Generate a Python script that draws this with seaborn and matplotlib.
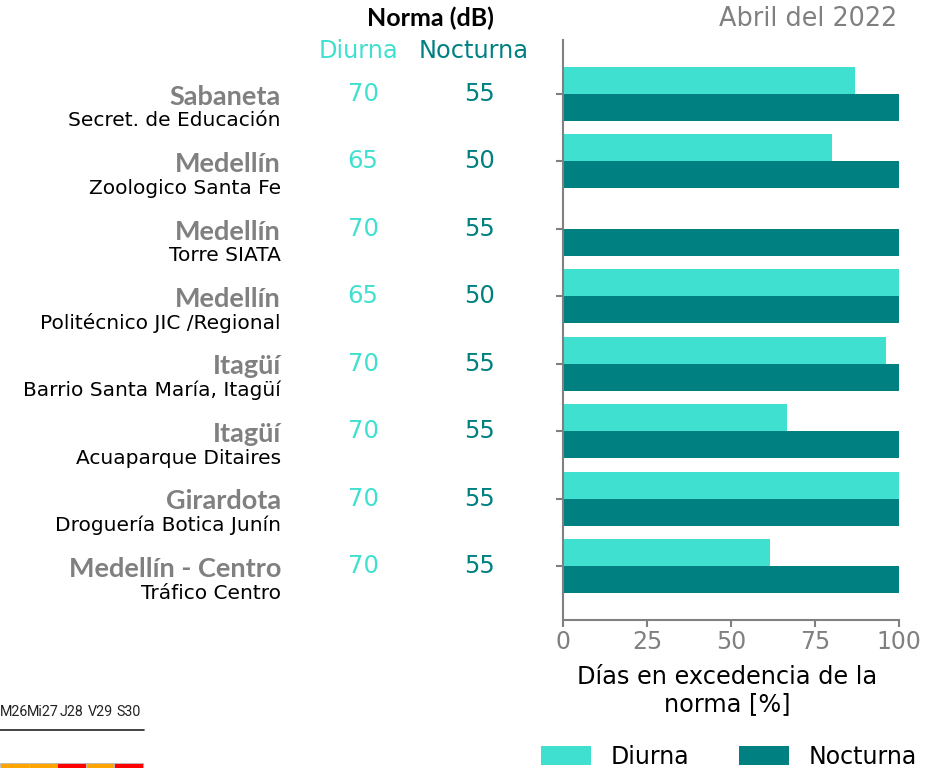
# Excedencia de la norma de ruido - Abril 2022
import matplotlib.pyplot as plt
import pandas as pd
import seaborn as sns
from matplotlib.patches import Rectangle
from matplotlib.transforms import blended_transform_factory

# datos
municipios = ['Sabaneta', 'Medellín', 'Medellín', 'Medellín', 'Itagüí', 'Itagüí',
              'Girardota', 'Medellín - Centro']
estaciones = ['Secret. de Educación', 'Zoologico Santa Fe', 'Torre SIATA',
              'Politécnico JIC /Regional', 'Barrio Santa María, Itagüí',
              'Acuaparque Ditaires', 'Droguería Botica Junín', 'Tráfico Centro']
norma_diurna = [70, 65, 70, 65, 70, 70, 70, 70]
norma_nocturna = [55, 50, 55, 50, 55, 55, 55, 55]
exced_diurna = [87, 80, 0, 100, 96, 66.7, 100, 61.5]
exced_nocturna = [100, 100, 100, 100, 100, 100, 100, 100]
periodos = ['Diurna', 'Nocturna']

# recorte del calendario (esquina inferior izquierda)
dias = ['M26', 'Mi27', 'J28', 'V29', 'S30']
colores_dias = ['#FFA500', '#FFA500', '#FF0000', '#FFA500', '#FF0000']

TURQ = '#40E0D0'
TEAL = '#008080'
GRIS = '#808080'

df = pd.DataFrame({
    'estacion': estaciones * 2,
    'periodo': [periodos[0]] * len(estaciones) + [periodos[1]] * len(estaciones),
    'pct': exced_diurna + exced_nocturna,
})

sns.set_style('white')
plt.rcParams['font.family'] = ['DejaVu Sans']
plt.rcParams['text.color'] = 'black'

fig = plt.figure(figsize=(9.33, 7.68), dpi=100)
ax = fig.add_axes([563 / 933, 1 - 620 / 768, (899 - 563) / 933, (620 - 40) / 768])

sns.barplot(data=df, x='pct', y='estacion', hue='periodo', order=estaciones,
            hue_order=periodos, palette=[TURQ, TEAL], orient='h', width=0.8,
            saturation=1, linewidth=0, ax=ax)

handles, labels = ax.get_legend_handles_labels()
ax.get_legend().remove()

ax.set_xlim(0, 100)
ax.set_ylim(len(estaciones) - 0.2, -0.8)
ax.set_xticks([0, 25, 50, 75, 100])
ax.set_yticklabels([])
ax.set_ylabel('')
ax.set_xlabel('Días en excedencia de la\nnorma [%]', fontsize=17.3)
ax.xaxis.set_label_coords(0.488, -0.077, transform=ax.transAxes)
ax.xaxis.label.set_va('top')
ax.tick_params(axis='x', colors=GRIS, labelsize=17, length=5, width=1.5, direction='out',
               bottom=True, pad=2)
ax.tick_params(axis='y', colors=GRIS, length=5, width=1.5, left=True)
ax.xaxis.label.set_color('black')
sns.despine(ax=ax, top=True, right=True)
for lado in ['left', 'bottom']:
    ax.spines[lado].set_color(GRIS)
    ax.spines[lado].set_linewidth(1.5)

# columnas de texto a la izquierda
tr = blended_transform_factory(fig.transFigure, ax.transData)
for i in range(len(estaciones)):
    ax.text(281 / 933, i + 0.04, municipios[i], transform=tr, ha='right', va='center',
            fontsize=19.5, fontweight='bold', color=GRIS, family='Lato')
    ax.text(281 / 933, i + 0.40, estaciones[i], transform=tr, ha='right', va='center',
            fontsize=14.5, color='black')
    ax.text(363 / 933, i, str(norma_diurna[i]), transform=tr, ha='center', va='center',
            fontsize=17.5, color=TURQ)
    ax.text(480 / 933, i, str(norma_nocturna[i]), transform=tr, ha='center', va='center',
            fontsize=17.5, color=TEAL)

# encabezados
fig.text(430 / 933, 1 - 18 / 768, 'Norma (dB)', ha='center', va='center', fontsize=18,
         fontweight='bold', family='Lato', color='black')
fig.text(358 / 933, 1 - 51 / 768, 'Diurna', ha='center', va='center', fontsize=17.3,
         color=TURQ)
fig.text(474 / 933, 1 - 51 / 768, 'Nocturna', ha='center', va='center', fontsize=17.3,
         color=TEAL)
fig.text(897 / 933, 1 - 19 / 768, 'Abril del 2022', ha='right', va='center', fontsize=18.4,
         color=GRIS)

# leyenda inferior
fig.legend(handles, labels, loc='center', bbox_to_anchor=(729 / 933, 1 - 757 / 768),
           ncol=2, frameon=False, fontsize=17, handlelength=2.1, handleheight=0.85,
           handletextpad=0.85, columnspacing=2.1, labelcolor='black')

# recorte del calendario
ancho = 28.6 / 933
for k, (d, c) in enumerate(zip(dias, colores_dias)):
    x0 = k * ancho
    fig.text(x0 + ancho / 2, 1 - 712 / 768, d, ha='center', va='center', fontsize=10.3,
             color='#222222', family='Roboto')
    fig.add_artist(Rectangle((x0, 0), ancho, 5 / 768, transform=fig.transFigure,
                             facecolor=c, edgecolor='#bbbbbb', linewidth=0.6))
fig.add_artist(plt.Line2D([0, 144 / 933], [1 - 730 / 768, 1 - 730 / 768],
                          transform=fig.transFigure, color='#222222', linewidth=1.2))

fig.savefig('out.png', dpi=100)
